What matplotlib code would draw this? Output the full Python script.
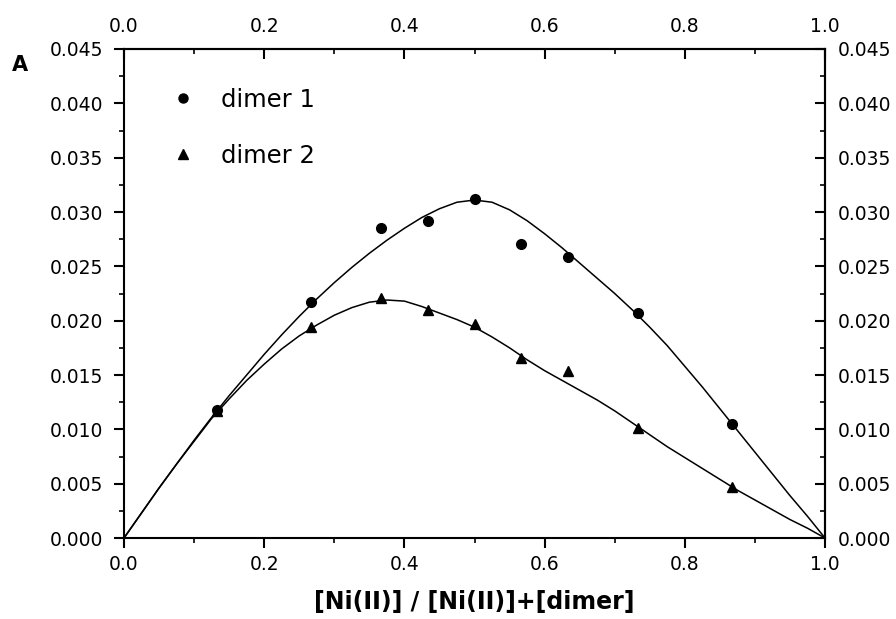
import matplotlib
matplotlib.use("Agg")
import matplotlib.pyplot as plt
from matplotlib.ticker import MultipleLocator, FormatStrFormatter
from matplotlib.lines import Line2D

# measured points
x_d1 = [0.133, 0.267, 0.367, 0.433, 0.500, 0.567, 0.633, 0.733, 0.867]
y_d1 = [0.0118, 0.0217, 0.0285, 0.0292, 0.0312, 0.0271, 0.0259, 0.0207, 0.0105]
x_d2 = [0.133, 0.267, 0.367, 0.433, 0.500, 0.567, 0.633, 0.733, 0.867]
y_d2 = [0.0117, 0.0194, 0.0221, 0.0210, 0.0197, 0.0166, 0.0154, 0.0101, 0.0047]

# fitted curves
x_fit = [0.000, 0.025, 0.050, 0.075, 0.100, 0.125, 0.150, 0.175, 0.200, 0.225,
         0.250, 0.275, 0.300, 0.325, 0.350, 0.375, 0.400, 0.425, 0.450, 0.475,
         0.500, 0.525, 0.550, 0.575, 0.600, 0.625, 0.650, 0.675, 0.700, 0.725,
         0.750, 0.775, 0.800, 0.825, 0.850, 0.875, 0.900, 0.925, 0.950, 0.975, 1.000]
fit_d1 = [0.0000, 0.0023, 0.0046, 0.0068, 0.0090, 0.0111, 0.0131, 0.0150, 0.0169, 0.0187,
          0.0204, 0.0220, 0.0235, 0.0249, 0.0262, 0.0274, 0.0285, 0.0295, 0.0303, 0.0309,
          0.0311, 0.0309, 0.0302, 0.0292, 0.0280, 0.0267, 0.0253, 0.0239, 0.0225, 0.0210,
          0.0194, 0.0177, 0.0158, 0.0139, 0.0119, 0.0099, 0.0079, 0.0059, 0.0039, 0.0020, 0.0000]
fit_d2 = [0.0000, 0.0023, 0.0046, 0.0068, 0.0089, 0.0110, 0.0128, 0.0145, 0.0160, 0.0174,
          0.0186, 0.0196, 0.0205, 0.0212, 0.0217, 0.0219, 0.0218, 0.0213, 0.0207, 0.0201,
          0.0194, 0.0185, 0.0175, 0.0164, 0.0154, 0.0145, 0.0136, 0.0127, 0.0117, 0.0106,
          0.0095, 0.0084, 0.0074, 0.0064, 0.0054, 0.0044, 0.0035, 0.0026, 0.0017, 0.0009, 0.0000]

labels = ["dimer 1", "dimer 2"]
xlabel = "[Ni(II)] / [Ni(II)]+[dimer]"

W, H = 896, 619
fig = plt.figure(figsize=(W / 100, H / 100), dpi=100)
ax = fig.add_axes([124 / W, 1 - 538 / H, 701 / W, 489 / H])

ax.plot(x_fit, fit_d1, color="black", lw=1.1, solid_joinstyle="round")
ax.plot(x_fit, fit_d2, color="black", lw=1.1, solid_joinstyle="round")
ax.plot(x_d1, y_d1, "o", color="black", ms=7, ls="none")
ax.plot(x_d2, y_d2, "^", color="black", ms=7.5, ls="none")

ax.set_xlim(0, 1.0)
ax.set_ylim(0, 0.045)

for s in ax.spines.values():
    s.set_linewidth(1.5)

ax.xaxis.set_major_locator(MultipleLocator(0.2))
ax.xaxis.set_minor_locator(MultipleLocator(0.1))
ax.yaxis.set_major_locator(MultipleLocator(0.005))
ax.yaxis.set_minor_locator(MultipleLocator(0.0025))
ax.xaxis.set_major_formatter(FormatStrFormatter("%.1f"))
ax.yaxis.set_major_formatter(FormatStrFormatter("%.3f"))

ax.tick_params(axis="both", which="major", direction="out", length=7, width=1.5,
               labelsize=13.5)
ax.tick_params(axis="both", which="minor", direction="out", length=3.5, width=1.2)
ax.tick_params(axis="x", which="major", pad=5)
ax.tick_params(axis="y", which="major", pad=8)

top = ax.secondary_xaxis("top")
top.xaxis.set_major_locator(MultipleLocator(0.2))
top.xaxis.set_minor_locator(MultipleLocator(0.1))
top.xaxis.set_major_formatter(FormatStrFormatter("%.1f"))
top.tick_params(which="major", direction="in", length=7, width=1.5, labelsize=13.5, pad=9)
top.tick_params(which="minor", direction="in", length=3.5, width=1.2)
top.spines["top"].set_linewidth(1.5)

right = ax.secondary_yaxis("right")
right.yaxis.set_major_locator(MultipleLocator(0.005))
right.yaxis.set_minor_locator(MultipleLocator(0.0025))
right.yaxis.set_major_formatter(FormatStrFormatter("%.3f"))
right.tick_params(which="major", direction="in", length=7, width=1.5, labelsize=13.5, pad=9)
right.tick_params(which="minor", direction="in", length=3.5, width=1.2)
right.spines["right"].set_linewidth(1.5)

ax.set_xlabel(xlabel, fontsize=17, fontweight="bold", labelpad=12)

fig.text(20 / W, 1 - 65 / H, "A", fontsize=15, fontweight="bold", ha="center", va="center")

handles = [Line2D([], [], marker="o", color="black", ls="none", ms=6.5),
           Line2D([], [], marker="^", color="black", ls="none", ms=6.5)]
ax.legend(handles, labels, loc="upper left", bbox_to_anchor=(171 / W, 1 - 88 / H),
          bbox_transform=fig.transFigure, frameon=False, fontsize=17.5,
          handlelength=1.0, handletextpad=1.05, labelspacing=1.3,
          borderpad=0, borderaxespad=0, numpoints=1)

fig.savefig("out.png", dpi=100)
